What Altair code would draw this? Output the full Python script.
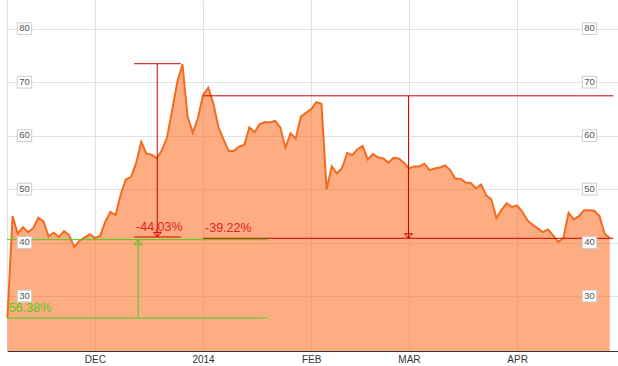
import altair as alt
import pandas as pd

# Daily closing prices (one per trading day, Nov 2013 - Apr 2014)
prices = [25.93, 45.0, 41.7, 42.9, 42.0, 42.7, 44.7, 44.0, 41.2, 41.9,
          41.1, 42.2, 41.4, 39.2, 40.4, 41.0, 41.6, 40.9, 41.3, 43.9,
          45.8, 45.2, 49.0, 51.9, 52.3, 54.9, 58.9, 56.7, 56.5, 55.8,
          57.3, 59.7, 64.8, 70.1, 73.4, 63.6, 60.6, 63.3, 67.6, 69.0,
          66.1, 61.6, 59.3, 57.2, 57.2, 58.0, 58.3, 61.6, 60.7, 62.2,
          62.6, 62.5, 62.8, 61.6, 57.8, 60.5, 59.5, 63.6, 64.3, 65.0,
          66.3, 66.0, 50.0, 54.3, 53.0, 54.0, 56.8, 56.4, 57.5, 58.1,
          55.6, 56.6, 56.0, 55.8, 55.0, 55.9, 55.8, 55.0, 53.9, 54.3,
          54.3, 54.8, 53.6, 53.9, 54.1, 54.5, 53.6, 52.0, 52.0, 51.3,
          51.2, 50.2, 50.9, 48.9, 48.1, 44.6, 46.2, 47.4, 46.7, 47.0,
          45.8, 44.2, 43.4, 42.7, 42.0, 42.5, 41.4, 40.2, 40.9, 45.6,
          44.4, 45.0, 46.1, 46.1, 46.0, 45.0, 41.7, 40.9]

# first trading day of each month (index into prices) and its label
month_ticks = [17, 38, 59, 78, 99]
month_labels = ["DEC", "2014", "FEB", "MAR", "APR"]
y_ticks = [30, 40, 50, 60, 70, 80]

# drawdown annotations (red)
dd_labels = ["-44.03%", "-39.22%"]
dd_start = [24.6, 38.0]
dd_end = [33.7, 117.7]
dd_mid = [29.1, 77.9]
dd_high = [73.5, 67.5]
dd_low = [41.1, 40.85]

# gain annotation (green)
gain_label = "56.38%"
gain_start = -0.1
gain_end = 50.6
gain_mid = 25.4
gain_low = 25.93
gain_high = 40.6

RED = "#cc0000"
RED_TEXT = "#e3231b"
GREEN = "#4ccf1c"
FONT = "Liberation Sans"

df = pd.DataFrame({"i": list(range(len(prices))), "p": prices})

segs = []
arrows = []
texts = []
for lab, s, e, m, hi, lo in zip(dd_labels, dd_start, dd_end, dd_mid, dd_high, dd_low):
    segs.append({"x1": s, "x2": e, "y1": hi, "y2": hi, "c": RED})
    segs.append({"x1": s, "x2": e, "y1": lo, "y2": lo, "c": RED})
    segs.append({"x1": m, "x2": m, "y1": hi, "y2": lo, "c": RED})
    arrows.append({"x": m, "y": lo, "c": RED})
    texts.append({"x": s, "y": lo, "t": lab, "c": RED_TEXT})
segs.append({"x1": gain_start, "x2": gain_end, "y1": gain_low, "y2": gain_low, "c": GREEN})
segs.append({"x1": gain_start, "x2": gain_end, "y1": gain_high, "y2": gain_high, "c": GREEN})
segs.append({"x1": gain_mid, "x2": gain_mid, "y1": gain_low, "y2": gain_high, "c": GREEN})
texts.append({"x": gain_start, "y": gain_low, "t": gain_label, "c": GREEN})

seg_df = pd.DataFrame(segs)
arrow_df = pd.DataFrame(arrows)
up_df = pd.DataFrame([{"x": gain_mid, "y": gain_high, "c": GREEN}])
text_df = pd.DataFrame(texts)
tick_df = pd.DataFrame({"v": y_ticks, "lab": [str(v) for v in y_ticks]})

xs = alt.Scale(domain=[-0.08, 118.6], nice=False, zero=False)
ys = alt.Scale(domain=[19.77, 85.42], nice=False, zero=False)

label_expr = " : ".join(
    f"datum.value == {t} ? '{l}'" for t, l in zip(month_ticks, month_labels)
) + " : ''"

x_axis = alt.Axis(values=month_ticks, labelExpr=label_expr, grid=True,
                  gridColor="#e2e2e2", ticks=False, domainColor="#333333",
                  domainWidth=1, labelFont=FONT, labelFontSize=10,
                  labelColor="#333333", labelPadding=3, title=None,
                  labelFlush=False)
y_axis = alt.Axis(values=y_ticks, labels=False, ticks=False, grid=True,
                  gridColor="#e2e2e2", domainColor="#e2e2e2", title=None)


def X(field):
    return alt.X(field, scale=xs, axis=x_axis)


def Y(field):
    return alt.Y(field, scale=ys, axis=y_axis)


area = alt.Chart(df).mark_area(color="#fb6a1a", opacity=0.55).encode(
    x=X("i:Q"), y=Y("p:Q"), y2=alt.datum(19.77),
)
line = alt.Chart(df).mark_line(color="#f26b1f", strokeWidth=2).encode(
    x=X("i:Q"), y=Y("p:Q"),
)
rules = alt.Chart(seg_df).mark_rule(strokeWidth=1).encode(
    x=X("x1:Q"), x2="x2:Q", y=Y("y1:Q"), y2="y2:Q",
    color=alt.Color("c:N", scale=None),
)
down = alt.Chart(arrow_df).mark_point(
    shape="M-1,-1.15L1,-1.15L0,0Z", size=64, filled=False, strokeWidth=1, opacity=1
).encode(
    x=X("x:Q"), y=Y("y:Q"), stroke=alt.Color("c:N", scale=None),
)
up = alt.Chart(up_df).mark_point(
    shape="M-1,1.3L1,1.3L0,0Z", size=64, filled=False, strokeWidth=1, opacity=1
).encode(
    x=X("x:Q"), y=Y("y:Q"), stroke=alt.Color("c:N", scale=None),
)
labels = alt.Chart(text_df).mark_text(
    align="left", baseline="alphabetic", dx=2, dy=-6, fontSize=12.5, font=FONT
).encode(
    x=X("x:Q"), y=Y("y:Q"), text="t:N", color=alt.Color("c:N", scale=None),
)


def tick_boxes(x_left, x_right):
    base = alt.Chart(tick_df).transform_calculate(
        lo="datum.v - 1.05", hi="datum.v + 1.15"
    )
    box = base.mark_rect(fill="white", stroke="#cccccc", strokeWidth=1).encode(
        x=alt.value(x_left), x2=alt.value(x_right),
        y=Y("lo:Q"), y2="hi:Q",
    )
    txt = base.mark_text(align="center", baseline="middle", fontSize=9.5,
                         font=FONT, color="#555555", dy=-0.5).encode(
        x=alt.value((x_left + x_right) / 2),
        y=Y("v:Q"),
        text="lab:N",
    )
    return box + txt


chart = alt.layer(
    area, line, rules, down, up, labels,
    tick_boxes(10.3, 24.7), tick_boxes(575.3, 589.7),
).properties(
    width=611, height=351,
    padding={"left": 7, "top": 0, "right": 0, "bottom": 15},
    autosize=alt.AutoSizeParams(type="none"),
).configure_view(stroke=None)

chart.save("out.html", embed_options={"renderer": "svg", "actions": False})
